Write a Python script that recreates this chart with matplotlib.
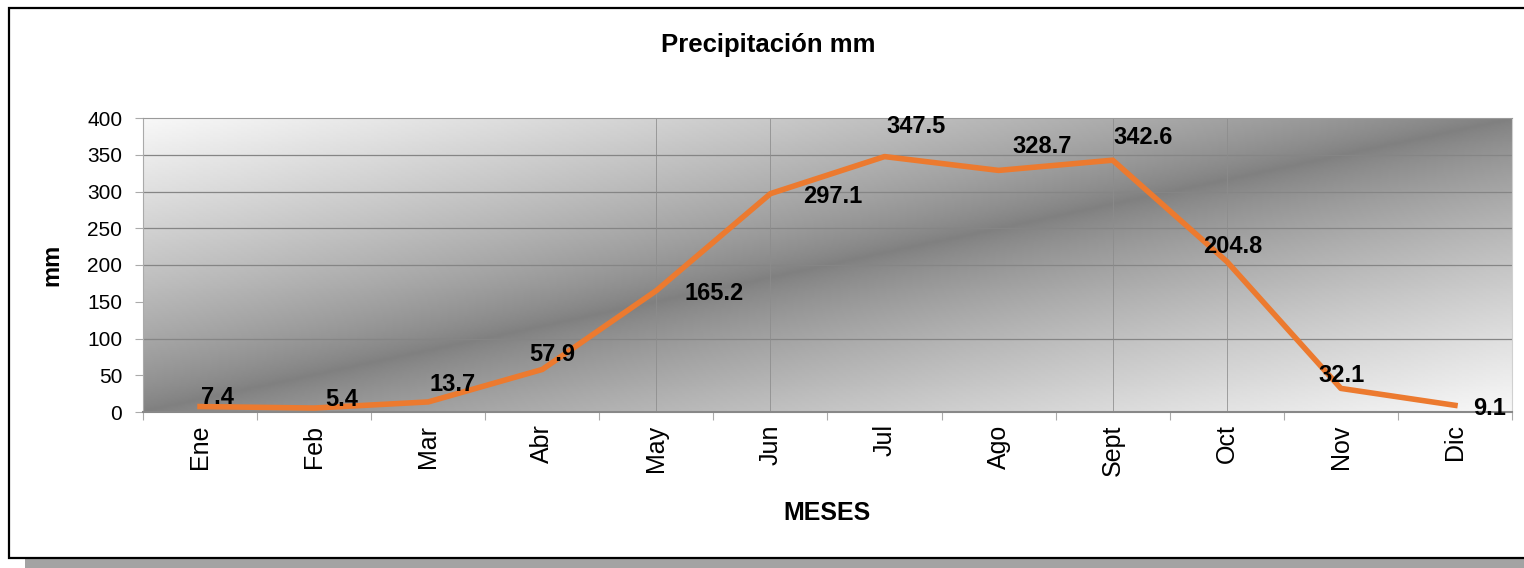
import matplotlib.pyplot as plt
import matplotlib.patches as patches
import numpy as np

plt.rcParams['font.family'] = ['Liberation Sans', 'DejaVu Sans']

meses = ['Ene', 'Feb', 'Mar', 'Abr', 'May', 'Jun', 'Jul', 'Ago', 'Sept', 'Oct', 'Nov', 'Dic']
precip = [7.4, 5.4, 13.7, 57.9, 165.2, 297.1, 347.5, 328.7, 342.6, 204.8, 32.1, 9.1]
etiquetas = ['7.4', '5.4', '13.7', '57.9', '165.2', '297.1', '347.5', '328.7', '342.6', '204.8', '32.1', '9.1']

# label offsets (pixels) from each point
offsets = [(17, 9), (28, 9), (24, 17), (10, 15), (58, -3), (62, -3),
           (32, 30), (43, 24), (30, 23), (6, 15), (1, 13), (35, -3)]

# gridlines that show in the reference
grid_y = [100, 200, 250, 300, 350]
grid_x = [4, 5, 8, 9]

fig = plt.figure(figsize=(15.24, 5.68), dpi=100)

# outer frame with shadow (below the axes)
fig.patches.append(patches.Rectangle((25 / 1524, 0), 1.0, 9 / 568, transform=fig.transFigure,
                                     facecolor='#a3a3a3', edgecolor='none', zorder=-3))
fig.patches.append(patches.Rectangle((9 / 1524, 10 / 568), 1.0, 550 / 568, transform=fig.transFigure,
                                     facecolor='white', edgecolor='black', linewidth=1.6, zorder=-2))

ax = fig.add_axes([143 / 1524, 1 - 412 / 568, 1369 / 1524, 294 / 568])
ax.patch.set_alpha(0)
ax.grid(False)
x = np.arange(len(meses))

# diagonal gradient background: light at top-left / bottom-right, dark along the other diagonal
gx = np.linspace(0, 1, 400)
gy = np.linspace(0, 1, 150)
GX, GY = np.meshgrid(gx, gy)
s = np.abs(GX + GY - 1)
shade = 0.50 + 0.47 * s ** 0.8
ax.imshow(shade, cmap='gray', vmin=0, vmax=1, extent=[-0.5, 11.5, 0, 400],
          origin='upper', aspect='auto', zorder=0, interpolation='bilinear')

ax.set_xlim(-0.5, 11.5)
ax.set_ylim(0, 400)
ax.set_yticks(np.arange(0, 401, 50))
ax.set_xticks(np.arange(-0.5, 11.6, 1))
ax.set_xticklabels([])
ax.set_xticks(x, minor=True)
ax.set_xticklabels(meses, minor=True, rotation=90, fontsize=18)
ax.tick_params(axis='x', which='minor', length=0, pad=9)
ax.tick_params(axis='x', which='major', length=6, color='#aaaaaa')
ax.tick_params(axis='y', length=6, color='#aaaaaa', labelsize=15, pad=9)

for yv in grid_y:
    ax.axhline(yv, color='#858585', linewidth=0.9, zorder=1)
for xv in grid_x:
    ax.axvline(xv, color='#8c8c8c', linewidth=0.7, alpha=0.8, zorder=1)

ax.spines['top'].set_color('#9a9a9a')
ax.spines['right'].set_color('#d0d0d0')
ax.spines['left'].set_color('#aaaaaa')
ax.spines['bottom'].set_color('#888888')
ax.spines['bottom'].set_linewidth(1.5)

ax.plot(x, precip, color='#EC7A2F', linewidth=4, zorder=3, solid_joinstyle='round')

for xi, yi, lab, off in zip(x, precip, etiquetas, offsets):
    ax.annotate(lab, (xi, yi), xytext=off, textcoords='offset pixels',
                ha='center', va='center', fontsize=17, fontweight='bold', zorder=4)

fig.text(52 / 1524, 1 - 265 / 568, 'mm', rotation=90, ha='center', va='center',
         fontsize=17, fontweight='bold')
fig.text(827 / 1524, 1 - 513 / 568, 'MESES', ha='center', va='center',
         fontsize=18, fontweight='bold')
fig.text(768 / 1524, 1 - 45 / 568, 'Precipitación mm', ha='center', va='center',
         fontsize=18.5, fontweight='bold')

fig.savefig('out.png', dpi=100)
